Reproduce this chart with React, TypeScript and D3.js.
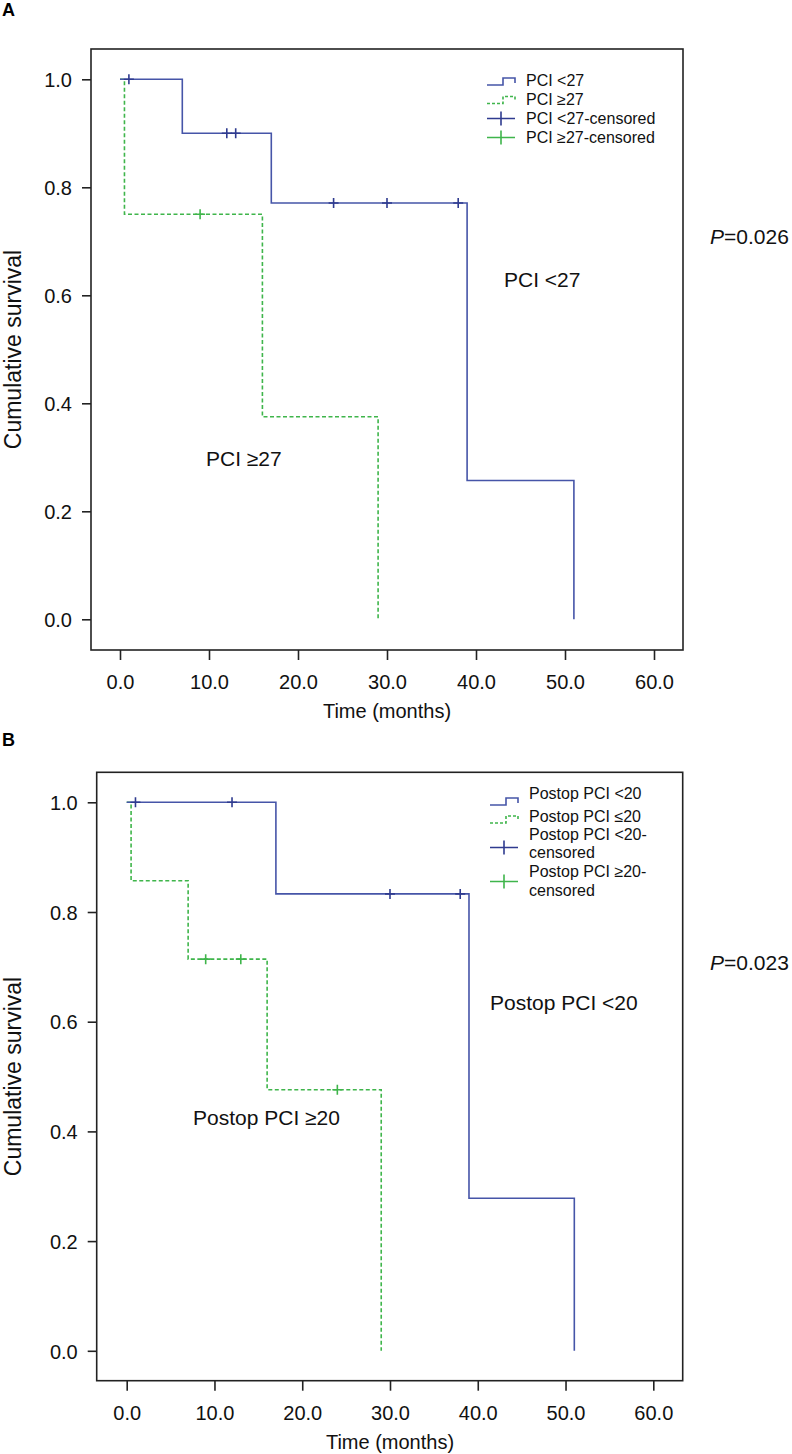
import React, { useRef, useEffect } from 'react';
import * as d3 from 'd3';

// shared axis ticks
const timeTicks = [0, 10, 20, 30, 40, 50, 60];
const survivalTicks = [0, 0.2, 0.4, 0.6, 0.8, 1.0];

// panel A: PCI <27 vs PCI >=27
const aLowTimes = [0, 7, 17, 39, 51];
const aLowSurv = [1, 0.9, 0.771, 0.257, 0];
const aLowCensor = [1, 12, 13, 24, 30, 38];
const aHighTimes = [0, 0.5, 16, 29];
const aHighSurv = [1, 0.75, 0.375, 0];
const aHighCensor = [9];
const aLegend = ['PCI <27', 'PCI \u226527', 'PCI <27-censored', 'PCI \u226527-censored'];

// panel B: postop PCI <20 vs >=20
const bLowTimes = [0, 17, 39, 51];
const bLowSurv = [1, 0.833, 0.278, 0];
const bLowCensor = [1, 12, 30, 38];
const bHighTimes = [0, 0.5, 7, 16, 29];
const bHighSurv = [1, 0.857, 0.714, 0.476, 0];
const bHighCensor = [9, 13, 24];
const bLegend = [['Postop PCI <20'], ['Postop PCI \u226420'], ['Postop PCI <20-', 'censored'], ['Postop PCI \u226520-', 'censored']];

const FONT = 'Arial, "Liberation Sans", Helvetica, sans-serif';
const BLUE = '#4655a8';
const BLUE_MARK = '#2f3b8f';
const GREEN = '#3fb54b';

type Curve = { times: number[]; surv: number[]; censor: number[]; color: string; mark: string; dashed: boolean };

type Panel = {
    letter: string;
    letterY: number;
    frame: { left: number; right: number; top: number; bottom: number };
    xRange: [number, number];
    yRange: [number, number];
    curves: Curve[];
    legendX: number;
    legendRows: { lines: string[]; baselines: number[]; swatchY: number }[];
    labels: { text: string; x: number; y: number; italicP?: boolean }[];
};

const survAt = (c: Curve, t: number) => {
    let s = c.surv[0];
    c.times.forEach((tt, i) => { if (tt <= t) s = c.surv[i]; });
    return s;
};

const drawPanel = (root: d3.Selection<SVGGElement, unknown, null, undefined>, p: Panel) => {
    const g = root.append('g');
    const x = d3.scaleLinear().domain([0, 60]).range(p.xRange);
    const y = d3.scaleLinear().domain([0, 1]).range(p.yRange);
    const f = p.frame;

    g.append('text')
        .attr('x', 2).attr('y', p.letterY)
        .attr('font-family', FONT).attr('font-weight', 'bold').attr('font-size', 18)
        .text(p.letter);

    const xAxis = g.append('g')
        .attr('transform', `translate(0,${f.bottom})`)
        .call(d3.axisBottom(x).tickValues(timeTicks).tickFormat(d3.format('.1f')).tickSize(10));
    xAxis.select('.domain').remove();
    xAxis.selectAll('line').attr('stroke', '#222').attr('stroke-width', 1.6);
    xAxis.selectAll('text')
        .attr('y', 39).attr('dy', null)
        .attr('font-family', FONT).attr('font-size', 20).attr('fill', '#111');

    const yAxis = g.append('g')
        .attr('transform', `translate(${f.left},0)`)
        .call(d3.axisLeft(y).tickValues(survivalTicks).tickFormat(d3.format('.1f')).tickSize(9));
    yAxis.select('.domain').remove();
    yAxis.selectAll('line').attr('stroke', '#222').attr('stroke-width', 1.6);
    yAxis.selectAll('text')
        .attr('x', -19).attr('dy', '0.36em')
        .attr('font-family', FONT).attr('font-size', 20).attr('fill', '#111');

    g.append('rect')
        .attr('x', f.left).attr('y', f.top)
        .attr('width', f.right - f.left).attr('height', f.bottom - f.top)
        .attr('fill', 'none').attr('stroke', '#222').attr('stroke-width', 1.6);

    g.append('text')
        .attr('transform', `translate(21,${(f.top + f.bottom) / 2}) rotate(-90)`)
        .attr('text-anchor', 'middle')
        .attr('font-family', FONT).attr('font-size', 23).attr('fill', '#111')
        .text('Cumulative survival');

    g.append('text')
        .attr('x', (p.xRange[0] + p.xRange[1]) / 2).attr('y', f.bottom + 68)
        .attr('text-anchor', 'middle')
        .attr('font-family', FONT).attr('font-size', 20).attr('fill', '#111')
        .text('Time (months)');

    const line = d3.line<[number, number]>()
        .x(d => x(d[0]))
        .y(d => y(d[1]))
        .curve(d3.curveStepAfter);

    // draw dashed curve first so the solid one sits on top
    [...p.curves].reverse().forEach(c => {
        g.append('path')
            .attr('d', line(c.times.map((t, i) => [t, c.surv[i]] as [number, number])))
            .attr('fill', 'none')
            .attr('stroke', c.color)
            .attr('stroke-width', 1.6)
            .attr('stroke-dasharray', c.dashed ? '4,2.5' : null);
        c.censor.forEach(t => {
            const cx = x(t);
            const cy = y(survAt(c, t));
            g.append('path')
                .attr('d', `M${cx - 5},${cy}H${cx + 5}M${cx},${cy - 5}V${cy + 5}`)
                .attr('stroke', c.mark).attr('stroke-width', 1.6).attr('fill', 'none');
        });
    });

    // legend
    const sx = p.legendX;
    p.legendRows.forEach((row, i) => {
        const c = p.curves[i % 2];
        const sy = row.swatchY;
        if (i < 2) {
            g.append('path')
                .attr('d', `M${sx},${sy}H${sx + 16}V${sy - 7}H${sx + 28}V${sy - 2}`)
                .attr('fill', 'none').attr('stroke', c.color).attr('stroke-width', 1.6)
                .attr('stroke-dasharray', c.dashed ? '3,2' : null);
        } else {
            g.append('path')
                .attr('d', `M${sx},${sy}H${sx + 28}M${sx + 14},${sy - 7}V${sy + 7}`)
                .attr('fill', 'none').attr('stroke', i === 2 ? c.mark : c.color).attr('stroke-width', 1.6);
        }
        row.lines.forEach((txt, j) => {
            g.append('text')
                .attr('x', sx + 39).attr('y', row.baselines[j])
                .attr('font-family', FONT).attr('font-size', 16).attr('fill', '#111')
                .text(txt);
        });
    });

    p.labels.forEach(l => {
        const t = g.append('text')
            .attr('x', l.x).attr('y', l.y)
            .attr('font-family', FONT).attr('font-size', 21).attr('fill', '#111');
        if (l.italicP) {
            t.append('tspan').attr('font-style', 'italic').text('P');
            t.append('tspan').text(l.text);
        } else {
            t.text(l.text);
        }
    });
};

const panelA: Panel = {
    letter: 'A',
    letterY: 16,
    frame: { left: 91, right: 683, top: 49, bottom: 650 },
    xRange: [120, 654],
    yRange: [619.3, 79.3],
    curves: [
        { times: aLowTimes, surv: aLowSurv, censor: aLowCensor, color: BLUE, mark: BLUE_MARK, dashed: false },
        { times: aHighTimes, surv: aHighSurv, censor: aHighCensor, color: GREEN, mark: GREEN, dashed: true },
    ],
    legendX: 487,
    legendRows: [
        { lines: [aLegend[0]], baselines: [86], swatchY: 85 },
        { lines: [aLegend[1]], baselines: [105], swatchY: 103.5 },
        { lines: [aLegend[2]], baselines: [124], swatchY: 118.5 },
        { lines: [aLegend[3]], baselines: [143], swatchY: 137.5 },
    ],
    labels: [
        { text: '=0.026', x: 710, y: 244, italicP: true },
        { text: 'PCI <27', x: 504, y: 286.5 },
        { text: 'PCI \u226527', x: 206, y: 466 },
    ],
};

const panelB: Panel = {
    letter: 'B',
    letterY: 746,
    frame: { left: 96.7, right: 682.7, top: 772.3, bottom: 1380.7 },
    xRange: [126.7, 653.3],
    yRange: [1350.8, 802.3],
    curves: [
        { times: bLowTimes, surv: bLowSurv, censor: bLowCensor, color: BLUE, mark: BLUE_MARK, dashed: false },
        { times: bHighTimes, surv: bHighSurv, censor: bHighCensor, color: GREEN, mark: GREEN, dashed: true },
    ],
    legendX: 490,
    legendRows: [
        { lines: bLegend[0], baselines: [799], swatchY: 805 },
        { lines: bLegend[1], baselines: [822], swatchY: 823 },
        { lines: bLegend[2], baselines: [840, 858], swatchY: 847.5 },
        { lines: bLegend[3], baselines: [877, 896], swatchY: 881.5 },
    ],
    labels: [
        { text: '=0.023', x: 710, y: 970, italicP: true },
        { text: 'Postop PCI <20', x: 490, y: 1010 },
        { text: 'Postop PCI \u226520', x: 193, y: 1125 },
    ],
};

const App: React.FC = () => {
    const svgRef = useRef<SVGSVGElement | null>(null);

    useEffect(() => {
        if (!svgRef.current) return;
        const svg = d3.select(svgRef.current);
        svg.selectAll('*').remove();
        const root = svg.append('g');
        drawPanel(root, panelA);
        drawPanel(root, panelB);
    }, []);

    return (
        <div style={{ position: 'absolute', left: 0, top: 0 }}>
            <svg ref={svgRef} width={792} height={1454} style={{ display: 'block', background: '#fff' }}></svg>
        </div>
    );
};

export default App;
